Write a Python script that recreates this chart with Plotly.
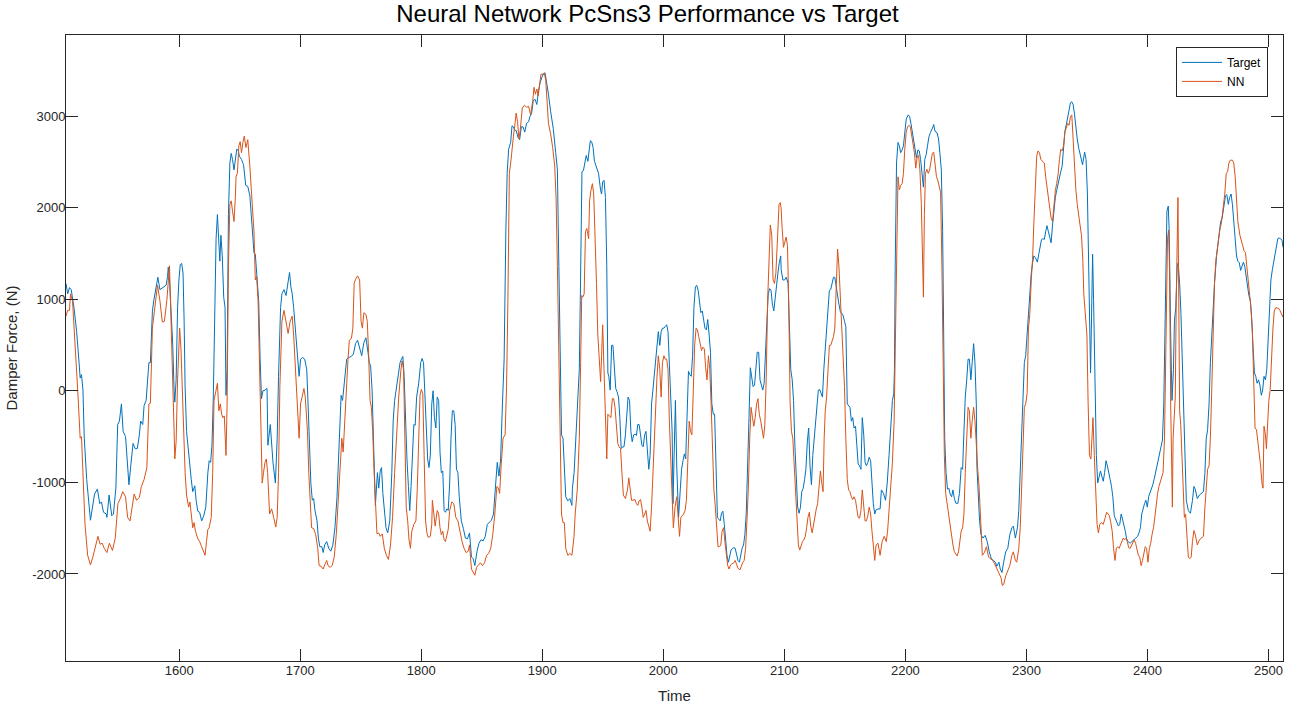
import plotly.graph_objects as go

# ===== DATA =====
# (time, damper force [N]) samples of the target signal
target_pts = [
    (1506.5, 1172), (1507.9, 1059), (1509.4, 1127), (1510.8, 1105), (1513.1, 909), (1515.3, 646),
    (1517.3, 308), (1518.2, 139), (1519.3, 177), (1520.5, 8), (1521.6, -518), (1523.6, -969),
    (1526.7, -1413), (1528.7, -1232), (1530.1, -1127), (1532.4, -1074), (1534.4, -1232), (1535.8, -1213),
    (1537.5, -1326), (1539.8, -1345), (1540.3, -1382), (1542.1, -1138), (1544.3, -1364), (1545.7, -1345),
    (1547.7, -1063), (1549.2, -368), (1550.6, -331), (1552.3, -143), (1553.7, -443), (1555.7, -500),
    (1557.1, -819), (1558.5, -1026), (1560.0, -819), (1561.9, -575), (1563.6, -631), (1565.4, -631),
    (1567.1, -481), (1568.2, -331), (1569.9, -368), (1571.0, -162), (1572.7, -105), (1575.0, 308),
    (1576.2, 308), (1577.9, 872), (1579.0, 984), (1580.7, 1135), (1582.4, 1240), (1584.1, 1105),
    (1586.9, 1135), (1589.2, 1153), (1590.4, 1247), (1591.0, 1350), (1592.0, 1220), (1593.6, 834),
    (1594.7, 496), (1595.8, 8), (1596.4, -124), (1597.5, 120), (1598.7, 909), (1599.8, 1210),
    (1600.9, 1379), (1602.1, 1390), (1603.2, 1285), (1604.1, 759), (1604.9, 45), (1606.1, -443),
    (1607.8, -706), (1608.9, -800), (1610.0, -969), (1611.2, -1101), (1612.9, -1037), (1614.0, -1195),
    (1615.4, -1315), (1616.9, -1326), (1618.6, -1420), (1620.3, -1364), (1622.0, -1270), (1623.7, -894),
    (1624.8, -763), (1626.0, -781), (1627.1, -594), (1628.2, -68), (1629.7, 984), (1630.5, 1661),
    (1631.6, 1924), (1632.8, 1661), (1633.6, 1416), (1634.5, 1698), (1635.6, 1473), (1636.8, 1022),
    (1637.9, 909), (1638.7, -49), (1639.6, 233), (1640.7, 1924), (1641.9, 2487), (1643.0, 2592),
    (1644.1, 2525), (1645.3, 2412), (1646.4, 2525), (1647.6, 2637), (1648.7, 2630), (1649.8, 2562),
    (1651.5, 2525), (1653.2, 2468), (1655.0, 2243), (1656.7, 2232), (1658.4, 2130), (1660.1, 1848),
    (1661.8, 1510), (1662.9, 1492), (1664.0, 1322), (1665.7, 984), (1666.9, 346), (1668.0, -86),
    (1669.2, 0), (1670.9, 8), (1672.6, 26), (1673.3, -594), (1675.3, -368), (1677.5, -781),
    (1679.5, -1007), (1681.0, -518), (1682.1, 158), (1683.8, 909), (1684.9, 1059), (1686.6, 1105),
    (1688.3, 1041), (1690.0, 1210), (1691.2, 1292), (1692.3, 1135), (1693.4, 1059), (1694.6, 909),
    (1696.0, 646), (1697.4, 421), (1699.1, 158), (1700.3, 346), (1701.9, 364), (1703.7, 346),
    (1705.4, 233), (1706.5, -143), (1707.7, -706), (1708.8, -1007), (1710.0, -1195), (1711.1, -1176),
    (1712.2, -1307), (1713.9, -1420), (1715.0, -1608), (1716.2, -1702), (1717.9, -1702), (1719.0, -1766),
    (1720.2, -1683), (1721.9, -1646), (1723.6, -1720), (1725.3, -1751), (1727.0, -1683), (1728.7, -1495),
    (1730.4, -1157), (1731.5, -819), (1732.7, -443), (1733.8, -49), (1735.0, -105), (1736.1, 45),
    (1737.2, 233), (1738.4, 346), (1740.0, 364), (1742.3, 376), (1744.0, 402), (1745.7, 515),
    (1747.4, 552), (1749.1, 458), (1750.8, 383), (1752.6, 526), (1754.3, 579), (1756.0, 421),
    (1757.1, 308), (1758.2, 270), (1759.4, 8), (1760.5, -518), (1761.6, -1007), (1762.1, -1251),
    (1763.8, -894), (1764.9, -1063), (1766.1, -875), (1767.2, -838), (1768.3, -1120), (1769.5, -1345),
    (1770.9, -1495), (1772.3, -1552), (1774.0, -1420), (1775.7, -894), (1776.8, -331), (1778.0, -105),
    (1779.1, 8), (1780.3, 83), (1781.4, 195), (1782.5, 308), (1783.7, 346), (1784.8, 376),
    (1785.9, 158), (1787.1, -443), (1788.2, -744), (1789.4, -1044), (1790.5, -1307), (1791.6, -1044),
    (1792.8, -594), (1793.9, -368), (1795.0, -376), (1796.2, -68), (1797.9, 83), (1799.6, 308),
    (1800.7, 353), (1801.9, 308), (1803.0, -30), (1804.1, -443), (1805.3, -744), (1806.4, -838),
    (1807.5, -706), (1808.7, -143), (1809.8, 0), (1810.9, -293), (1812.1, -406), (1813.2, -68),
    (1814.4, -105), (1815.5, -669), (1816.6, -894), (1817.8, -875), (1818.9, -1307), (1820.0, -1326),
    (1821.2, -1289), (1822.3, -1307), (1823.5, -1007), (1824.6, -518), (1825.7, -218), (1826.9, -218),
    (1828.0, -368), (1829.1, -857), (1830.3, -894), (1831.4, -1157), (1833.1, -1420), (1834.8, -1503),
    (1836.5, -1608), (1838.2, -1615), (1839.9, -1552), (1841.5, -1815), (1842.9, -1833), (1844.3, -1908),
    (1846.0, -1758), (1847.7, -1664), (1849.4, -1627), (1851.2, -1638), (1852.9, -1589), (1854.6, -1458),
    (1856.3, -1439), (1858.0, -1413), (1859.7, -1345), (1861.4, -1026), (1862.8, -781), (1864.2, -932),
    (1865.6, -744), (1867.1, -143), (1868.5, 346), (1869.9, 1736), (1871.0, 2374), (1872.2, 2637),
    (1873.9, 2712), (1875.0, 2893), (1876.2, 2882), (1877.3, 2844), (1878.4, 2844), (1879.9, 2769),
    (1881.3, 2742), (1882.7, 2882), (1884.1, 2882), (1885.5, 2825), (1887.0, 2919), (1888.7, 2938),
    (1889.8, 2994), (1891.2, 3032), (1892.6, 3171), (1894.1, 3182), (1895.5, 3126), (1896.9, 3276),
    (1898.3, 3370), (1899.8, 3426), (1901.2, 3464), (1902.3, 3471), (1903.4, 3389), (1905.1, 3239),
    (1906.9, 3051), (1909.1, 2863), (1911.1, 2600), (1912.5, 2412), (1913.7, 1360), (1914.8, 233),
    (1915.9, -481), (1917.1, -518), (1918.2, -894), (1919.4, -1157), (1921.1, -1202), (1922.8, -1176),
    (1924.5, -1251), (1924.9, -1063), (1926.3, -894), (1927.7, -518), (1929.2, -143), (1930.6, 233),
    (1931.4, 984), (1932.3, 1924), (1932.8, 2393), (1934.0, 2404), (1935.1, 2487), (1936.3, 2570),
    (1937.7, 2506), (1938.5, 2600), (1939.7, 2731), (1940.8, 2720), (1942.0, 2656), (1943.1, 2506),
    (1944.8, 2450), (1946.5, 2374), (1948.2, 2187), (1949.0, 2149), (1949.9, 2281), (1951.0, 2299),
    (1952.2, 2111), (1953.3, 1360), (1954.2, 195), (1955.0, 158), (1956.1, 8), (1957.3, 496),
    (1958.4, 496), (1959.6, 233), (1960.7, 26), (1961.8, -11), (1963.0, -68), (1964.1, -293),
    (1965.2, -631), (1966.4, -612), (1967.5, -612), (1968.7, -481), (1969.8, -218), (1970.9, -68),
    (1972.1, -105), (1973.2, -443), (1974.3, -556), (1975.5, -481), (1976.6, -473), (1977.8, -488),
    (1978.9, -368), (1980.0, -368), (1981.2, -481), (1982.3, -594), (1983.4, -612), (1984.6, -481),
    (1985.7, -443), (1986.8, -631), (1988.0, -857), (1989.1, -706), (1990.3, -143), (1991.4, 8),
    (1992.5, 158), (1993.7, 308), (1994.8, 458), (1995.9, 646), (1997.1, 496), (1998.2, 646),
    (1999.3, 684), (2000.5, 684), (2001.6, 703), (2002.8, 721), (2003.9, 646), (2005.0, 308),
    (2006.2, -68), (2007.3, -443), (2008.0, -1232), (2009.0, -706), (2010.0, -105), (2011.1, -819),
    (2012.6, -1382), (2014.0, -1082), (2015.1, -857), (2016.3, -763), (2017.4, -688), (2018.5, -744),
    (2019.7, -255), (2020.8, 214), (2021.9, 177), (2023.1, 158), (2024.2, 383), (2025.3, 909),
    (2026.5, 1135), (2027.6, 1153), (2028.8, 1097), (2029.9, 984), (2031.0, 853), (2032.2, 872),
    (2033.3, 797), (2034.4, 684), (2035.6, 665), (2036.7, 778), (2037.9, 609), (2039.0, 421),
    (2040.1, -143), (2041.3, -255), (2042.4, -255), (2043.5, -894), (2044.7, -1382), (2045.8, -1401),
    (2047.0, -1420), (2048.1, -1337), (2049.2, -1315), (2050.4, -1458), (2051.5, -1646), (2052.6, -1796),
    (2053.8, -1871), (2054.9, -1796), (2056.0, -1739), (2057.2, -1720), (2058.3, -1713), (2059.4, -1720),
    (2060.6, -1796), (2061.7, -1852), (2062.9, -1871), (2064.0, -1796), (2065.1, -1720), (2066.3, -1683),
    (2067.4, -1570), (2068.5, -1345), (2069.7, -894), (2070.8, -293), (2071.9, 252), (2073.1, 120),
    (2074.2, 45), (2075.4, 64), (2076.5, 214), (2077.6, 421), (2078.8, 421), (2079.9, 120),
    (2081.0, 64), (2082.2, 8), (2083.3, 83), (2084.4, 346), (2085.6, 759), (2086.7, 1059),
    (2087.9, 1116), (2089.0, 1097), (2090.1, 947), (2091.3, 872), (2092.4, 1022), (2093.5, 1172),
    (2094.7, 1285), (2095.8, 1398), (2097.0, 1473), (2097.4, 1322), (2098.8, 1210), (2100.2, 1210),
    (2101.6, 1240), (2103.1, 1172), (2104.2, 609), (2105.3, 233), (2106.5, 120), (2107.6, -105),
    (2108.7, -594), (2109.9, -1044), (2111.0, -1270), (2112.2, -1337), (2113.3, -1270), (2114.4, -1101),
    (2115.6, -1063), (2116.7, -969), (2117.8, -857), (2119.0, -556), (2120.1, -406), (2121.2, -819),
    (2122.4, -1026), (2123.5, -706), (2124.7, -518), (2125.8, -331), (2126.9, -143), (2128.1, 8),
    (2129.2, 15), (2130.3, -30), (2131.5, -68), (2132.6, 233), (2133.8, 458), (2134.9, 684),
    (2136.0, 984), (2137.2, 1097), (2138.3, 1105), (2139.4, 1172), (2140.6, 1240), (2141.7, 1240),
    (2142.8, 1135), (2144.0, 1022), (2145.1, 947), (2146.3, 864), (2147.4, 842), (2148.5, 827),
    (2149.7, 759), (2150.8, 703), (2152.0, -143), (2153.1, -162), (2154.2, -180), (2155.4, -331),
    (2156.5, -293), (2157.6, -406), (2158.8, -387), (2159.9, -594), (2161.0, -800), (2162.2, -819),
    (2163.3, -857), (2164.4, -293), (2165.6, -481), (2166.7, -781), (2167.8, -819), (2169.0, -781),
    (2170.1, -725), (2171.3, -763), (2172.4, -1007), (2173.5, -1232), (2174.7, -1345), (2175.7, -1300),
    (2177.4, -1290), (2179.1, -1290), (2180.2, -1082), (2181.9, -1120), (2183.6, -1195), (2185.0, -1007),
    (2186.5, -706), (2187.9, -443), (2189.3, -105), (2190.4, -30), (2191.0, 233), (2191.6, 1360),
    (2192.7, 2487), (2193.9, 2712), (2195.0, 2675), (2196.1, 2600), (2197.3, 2630), (2198.4, 2675),
    (2199.5, 2863), (2200.7, 2968), (2202.4, 3013), (2203.5, 2994), (2204.6, 2919), (2205.8, 2825),
    (2206.9, 2712), (2208.1, 2619), (2209.2, 2543), (2210.3, 2630), (2211.5, 2619), (2212.6, 2525),
    (2213.7, 2374), (2214.9, 2224), (2216.0, 2525), (2217.2, 2581), (2218.3, 2675), (2219.4, 2769),
    (2220.6, 2818), (2221.7, 2844), (2222.8, 2882), (2223.4, 2908), (2224.5, 2833), (2226.2, 2818),
    (2227.4, 2750), (2228.5, 2600), (2229.7, 2412), (2230.8, 1736), (2231.4, 609), (2232.5, -518),
    (2233.6, -894), (2234.8, -1074), (2235.9, -1063), (2237.0, -1127), (2238.2, -1157), (2239.3, -1082),
    (2240.5, -1176), (2241.6, -1225), (2243.3, -1232), (2244.7, -1120), (2246.1, -838), (2247.3, -857),
    (2248.4, -443), (2249.5, -68), (2250.7, 120), (2251.8, 346), (2252.9, 346), (2254.1, 120),
    (2255.2, 308), (2256.4, 515), (2257.5, 308), (2258.6, -143), (2259.1, -819), (2260.2, -1157),
    (2261.3, -1420), (2262.5, -1570), (2264.2, -1608), (2265.9, -1578), (2267.6, -1646), (2269.3, -1758),
    (2271.0, -1833), (2272.7, -1852), (2274.4, -1871), (2275.5, -1916), (2277.3, -1871), (2278.4, -1946),
    (2279.8, -1984), (2281.2, -1871), (2282.9, -1758), (2284.6, -1720), (2286.3, -1570), (2288.0, -1495),
    (2289.2, -1477), (2290.9, -1608), (2292.6, -1495), (2293.7, -1307), (2294.9, -894), (2296.0, -331),
    (2297.1, 45), (2298.3, 308), (2299.4, 383), (2300.6, 646), (2301.7, 909), (2302.8, 1135),
    (2304.0, 1285), (2305.1, 1398), (2306.2, 1473), (2307.4, 1454), (2309.1, 1405), (2310.2, 1492),
    (2311.3, 1585), (2312.5, 1653), (2313.6, 1661), (2314.8, 1653), (2315.9, 1736), (2317.0, 1803),
    (2318.2, 1736), (2319.3, 1661), (2320.4, 1616), (2321.6, 1811), (2322.7, 1999), (2323.9, 2111),
    (2325.0, 2187), (2326.1, 2262), (2327.3, 2356), (2328.4, 2393), (2329.5, 2450), (2330.7, 2637),
    (2331.8, 2833), (2333.0, 2908), (2334.1, 2975), (2335.2, 3051), (2336.4, 3145), (2337.5, 3156),
    (2338.6, 3126), (2339.8, 3013), (2340.9, 2863), (2342.0, 2750), (2343.3, 2645), (2344.7, 2562),
    (2346.4, 2468), (2348.1, 2607), (2349.3, 2525), (2350.4, 2149), (2351.6, 1360), (2352.4, 609),
    (2353.0, 195), (2353.8, 797), (2354.7, 1492), (2355.5, 984), (2356.7, -143), (2357.8, -706),
    (2358.9, -1007), (2360.1, -932), (2361.2, -875), (2362.3, -932), (2363.5, -988), (2364.6, -894),
    (2365.8, -763), (2366.9, -819), (2368.0, -913), (2369.2, -969), (2370.3, -1044), (2371.4, -1157),
    (2372.6, -1364), (2373.7, -1401), (2374.9, -1420), (2376.0, -1477), (2377.1, -1458), (2378.3, -1345),
    (2379.4, -1401), (2380.5, -1458), (2381.7, -1533), (2382.8, -1615), (2384.0, -1646), (2385.7, -1664),
    (2387.4, -1646), (2389.1, -1627), (2390.2, -1608), (2391.9, -1589), (2393.0, -1552), (2394.2, -1495),
    (2395.3, -1345), (2396.5, -1270), (2397.6, -1232), (2398.7, -1195), (2399.9, -1270), (2401.0, -1157),
    (2402.1, -1120), (2403.3, -1063), (2404.4, -1026), (2405.5, -969), (2406.7, -894), (2407.8, -819),
    (2409.0, -744), (2410.1, -688), (2411.2, -594), (2412.4, -537), (2413.5, -143), (2414.4, 609),
    (2415.2, 1548), (2416.1, 1961), (2417.2, 2017), (2418.0, 1736), (2419.2, 609), (2420.3, -105),
    (2421.5, 233), (2422.3, 759), (2423.4, 909), (2424.6, 1360), (2425.4, 1398), (2426.6, 1172),
    (2427.7, 834), (2428.6, 400), (2429.5, -100), (2430.4, -600), (2431.3, -969), (2432.1, -1195),
    (2433.8, -1307), (2435.5, -1337), (2437.2, -1195), (2438.4, -1044), (2439.5, -1074), (2441.2, -1176),
    (2442.9, -1138), (2444.6, -1120), (2446.3, -1101), (2447.5, -894), (2448.6, -518), (2449.7, -425),
    (2450.9, -143), (2452.0, 308), (2453.7, 759), (2455.4, 1172), (2457.1, 1473), (2458.8, 1698),
    (2460.5, 1848), (2461.7, 1886), (2463.4, 2036), (2464.5, 2130), (2465.6, 2141), (2466.8, 2036),
    (2467.9, 2111), (2469.1, 2149), (2470.2, 2036), (2471.3, 1848), (2472.5, 1661), (2473.6, 1473),
    (2474.7, 1416), (2475.9, 1398), (2477.0, 1315), (2478.1, 1360), (2479.3, 1405), (2480.4, 1360),
    (2481.6, 1247), (2482.7, 1097), (2483.8, 1041), (2485.0, 984), (2486.1, 797), (2487.2, 496),
    (2488.4, 195), (2489.5, 158), (2490.6, 83), (2491.8, 120), (2492.9, 64), (2494.1, -49),
    (2495.2, 8), (2496.3, 158), (2497.5, 120), (2498.6, 233), (2499.7, 609), (2500.9, 984),
    (2502.0, 1210), (2503.2, 1322), (2504.3, 1398), (2505.4, 1473), (2506.6, 1585), (2507.7, 1661),
    (2508.9, 1668), (2510.0, 1661), (2511.2, 1642), (2512.0, 1567),
]

# (time, damper force [N]) samples of the network output
nn_pts = [
    (1506.5, 815), (1507.9, 879), (1509.4, 879), (1510.2, 1059), (1511.9, 984), (1514.5, 421),
    (1516.5, -68), (1518.2, -518), (1519.3, -500), (1520.5, -894), (1522.2, -1458), (1524.4, -1796),
    (1526.7, -1901), (1528.7, -1815), (1531.0, -1683), (1532.9, -1589), (1534.7, -1675), (1536.4, -1664),
    (1538.1, -1720), (1540.3, -1766), (1542.3, -1664), (1544.9, -1743), (1547.2, -1608), (1549.4, -1232),
    (1551.4, -1176), (1553.4, -1101), (1555.7, -1157), (1557.4, -1382), (1559.4, -1420), (1560.8, -1307),
    (1562.8, -1127), (1564.8, -1195), (1567.1, -1165), (1568.8, -1044), (1571.0, -969), (1573.3, -838),
    (1575.0, -143), (1576.2, -135), (1577.9, 684), (1579.9, 909), (1582.1, 1153), (1584.1, 984),
    (1586.1, 751), (1587.8, 759), (1589.8, 984), (1592.0, 1365), (1593.6, 721), (1594.7, 233),
    (1595.6, -331), (1596.4, -744), (1597.5, -556), (1598.7, 120), (1600.4, 684), (1601.5, 458),
    (1602.7, 8), (1603.8, -518), (1604.9, -894), (1606.1, -1138), (1607.8, -1270), (1608.9, -1213),
    (1610.0, -1382), (1611.2, -1495), (1612.3, -1439), (1613.5, -1533), (1615.2, -1608), (1616.9, -1646),
    (1618.6, -1702), (1620.3, -1758), (1621.4, -1796), (1622.6, -1646), (1623.7, -1514), (1624.8, -1495),
    (1626.5, -1382), (1627.7, -894), (1628.8, -105), (1630.5, 8), (1631.6, 83), (1632.8, -218),
    (1634.0, -143), (1635.1, -255), (1636.2, -293), (1637.3, -274), (1638.7, -706), (1639.6, -143),
    (1640.7, 1360), (1641.9, 2036), (1643.0, 2074), (1644.1, 1961), (1645.3, 1848), (1646.4, 2111),
    (1647.0, 2337), (1648.1, 2374), (1649.3, 2675), (1650.4, 2720), (1651.5, 2600), (1652.7, 2712),
    (1653.8, 2780), (1655.2, 2656), (1656.7, 2742), (1658.4, 2450), (1660.1, 2111), (1661.8, 1736),
    (1662.9, 1210), (1664.0, 1247), (1665.2, 984), (1666.3, 346), (1667.5, -443), (1668.6, -1007),
    (1669.7, -894), (1670.9, -781), (1672.0, -744), (1673.1, -894), (1674.7, -1345), (1676.4, -1289),
    (1678.1, -1382), (1679.8, -1488), (1681.0, -1382), (1682.1, -894), (1683.2, 45), (1684.9, 759),
    (1686.6, 879), (1688.3, 740), (1690.0, 627), (1691.7, 759), (1693.4, 815), (1694.6, 609),
    (1695.7, 346), (1696.9, 45), (1698.0, -331), (1699.1, -518), (1700.3, -143), (1701.4, -86),
    (1703.1, 26), (1704.2, -68), (1706.0, -443), (1707.1, -894), (1708.2, -1270), (1709.4, -1495),
    (1711.1, -1503), (1712.8, -1570), (1714.5, -1720), (1715.6, -1908), (1717.3, -1916), (1719.0, -1946),
    (1720.2, -1901), (1721.9, -1852), (1723.0, -1908), (1724.7, -1927), (1726.4, -1908), (1728.1, -1815),
    (1729.8, -1570), (1731.5, -1195), (1733.2, -819), (1734.4, -518), (1735.5, -669), (1736.6, -368),
    (1737.8, 8), (1739.5, 346), (1740.6, 552), (1742.3, 571), (1743.5, 684), (1744.6, 1172),
    (1745.7, 1217), (1747.4, 1255), (1749.1, 1210), (1750.3, 759), (1751.4, 684), (1752.6, 853),
    (1754.3, 834), (1755.4, 759), (1756.5, 421), (1757.7, -105), (1758.8, -180), (1759.9, -443),
    (1761.1, -894), (1762.2, -1270), (1763.4, -1560), (1764.9, -1552), (1766.1, -1589), (1767.8, -1563),
    (1769.5, -1720), (1771.2, -1796), (1772.9, -1841), (1774.6, -1683), (1776.3, -1382), (1778.0, -894),
    (1779.7, -443), (1781.4, -68), (1783.1, 214), (1784.2, 327), (1785.4, 233), (1786.5, -706),
    (1787.6, -1270), (1788.8, -1420), (1789.9, -1627), (1791.1, -1720), (1792.2, -1533), (1793.9, -1458),
    (1795.6, -1420), (1796.7, -1082), (1797.9, -518), (1799.0, -49), (1800.1, 15), (1801.3, -30),
    (1802.4, -706), (1803.6, -1420), (1804.7, -1552), (1805.8, -1600), (1807.5, -1589), (1808.7, -1458),
    (1809.2, -1195), (1810.4, -1382), (1811.5, -1477), (1813.2, -1307), (1814.4, -1345), (1815.5, -1495),
    (1816.6, -1570), (1817.8, -1533), (1818.9, -1627), (1820.0, -1646), (1821.2, -1589), (1822.3, -1514),
    (1823.5, -1307), (1825.2, -1213), (1826.9, -1232), (1828.6, -1382), (1830.3, -1420), (1832.0, -1552),
    (1833.7, -1646), (1835.4, -1720), (1837.1, -1766), (1838.8, -1751), (1839.9, -1683), (1841.5, -1946),
    (1842.9, -1976), (1844.3, -2014), (1845.7, -1927), (1847.2, -1908), (1848.9, -1878), (1850.6, -1908),
    (1852.3, -1878), (1854.0, -1796), (1855.7, -1777), (1857.4, -1720), (1859.1, -1570), (1860.8, -1345),
    (1862.5, -1044), (1863.7, -1063), (1864.8, -1120), (1866.0, -819), (1867.6, -518), (1869.3, -481),
    (1870.5, 45), (1871.6, 984), (1872.8, 2374), (1873.9, 2487), (1875.0, 2675), (1876.2, 2780),
    (1877.3, 2900), (1878.4, 3032), (1879.6, 2938), (1880.7, 2750), (1881.8, 2844), (1883.5, 3088),
    (1885.3, 3118), (1887.0, 3096), (1888.7, 3107), (1890.4, 3013), (1892.1, 3163), (1893.2, 3314),
    (1894.3, 3239), (1895.5, 3295), (1896.6, 3220), (1897.8, 3389), (1898.9, 3456), (1900.6, 3456),
    (1901.7, 3471), (1902.9, 3389), (1904.0, 3163), (1905.1, 2919), (1906.9, 2806), (1908.6, 2656),
    (1910.3, 2450), (1911.4, 2111), (1912.5, 1360), (1913.7, 233), (1914.8, -518), (1915.9, -1345),
    (1917.1, -1439), (1918.2, -1439), (1919.4, -1720), (1921.1, -1796), (1922.8, -1777), (1924.5, -1796),
    (1926.2, -1600), (1927.2, -1345), (1928.9, -1082), (1930.6, -518), (1931.7, 308), (1932.6, 1041),
    (1933.4, 1022), (1934.6, 1059), (1935.7, 1736), (1936.8, 1773), (1938.3, 1661), (1939.1, 2074),
    (1940.2, 2187), (1941.4, 2262), (1942.5, 2149), (1943.6, 1736), (1944.8, 1172), (1945.9, 609),
    (1947.1, 308), (1948.2, 101), (1949.0, 383), (1949.9, 721), (1951.0, 233), (1952.2, -331),
    (1953.3, -744), (1954.2, -255), (1955.6, -274), (1956.7, -293), (1957.9, -86), (1959.0, -86),
    (1960.1, -180), (1961.3, -368), (1962.4, -575), (1963.5, -612), (1964.7, -631), (1965.8, -894),
    (1967.0, -1138), (1968.7, -1176), (1970.4, -1082), (1971.5, -950), (1972.6, -1044), (1973.8, -1195),
    (1974.9, -1195), (1976.6, -1187), (1977.8, -1232), (1978.9, -1251), (1980.0, -1202), (1981.2, -1187),
    (1982.3, -1270), (1983.4, -1382), (1984.6, -1345), (1985.7, -1307), (1986.8, -1420), (1988.0, -1495),
    (1989.1, -1533), (1990.3, -1270), (1991.4, -894), (1992.5, -518), (1993.7, -180), (1994.8, 158),
    (1995.9, 383), (1997.1, 233), (1998.2, -68), (1999.3, 308), (2000.5, 383), (2001.6, 346),
    (2002.8, 346), (2003.9, 233), (2005.0, -331), (2006.2, -894), (2007.3, -1157), (2008.3, -1495),
    (2009.7, -1270), (2011.1, -1157), (2012.3, -1420), (2013.4, -1589), (2014.5, -1382), (2015.7, -1364),
    (2016.8, -1345), (2018.0, -1307), (2019.1, -1195), (2020.2, -781), (2021.4, -331), (2022.5, -443),
    (2023.6, -481), (2024.8, 8), (2025.9, 496), (2027.1, 684), (2028.2, 665), (2029.3, 590),
    (2030.5, 496), (2031.6, 440), (2032.7, 477), (2033.9, 458), (2035.0, 252), (2036.1, 120),
    (2037.3, 383), (2038.4, 233), (2039.5, -143), (2040.7, -706), (2041.8, -1082), (2043.0, -1270),
    (2044.1, -1570), (2045.2, -1702), (2046.4, -1702), (2047.5, -1683), (2048.6, -1533), (2049.8, -1495),
    (2050.9, -1646), (2052.1, -1833), (2053.2, -1908), (2054.3, -1946), (2055.5, -1901), (2056.6, -1890),
    (2058.3, -1878), (2059.4, -1852), (2060.6, -1890), (2061.7, -1938), (2063.4, -1954), (2064.6, -1908),
    (2065.7, -1871), (2066.8, -1852), (2068.0, -1720), (2069.1, -1420), (2070.2, -1082), (2071.4, -518),
    (2072.5, -180), (2073.7, -293), (2074.8, -387), (2075.9, -293), (2077.1, -143), (2078.2, -86),
    (2079.3, -255), (2080.5, -331), (2081.6, -443), (2082.8, -518), (2083.9, -368), (2085.0, 120),
    (2086.2, 984), (2087.3, 1510), (2088.4, 1811), (2089.6, 1698), (2090.7, 1210), (2091.9, 1172),
    (2093.0, 1285), (2094.5, 1700), (2095.6, 2036), (2096.6, 2055), (2097.3, 1999), (2098.2, 1773),
    (2099.3, 1567), (2100.4, 1623), (2101.5, 1679), (2102.6, 1585), (2103.6, 984), (2104.8, -143),
    (2105.9, -443), (2107.0, -518), (2108.2, -819), (2109.3, -1157), (2110.4, -1420), (2111.6, -1683),
    (2112.7, -1739), (2113.9, -1683), (2115.0, -1646), (2116.1, -1627), (2117.3, -1589), (2118.4, -1495),
    (2119.5, -1382), (2120.7, -1326), (2121.8, -1477), (2123.0, -1552), (2124.1, -1458), (2125.2, -1382),
    (2126.4, -1289), (2127.5, -1232), (2128.6, -1007), (2129.8, -875), (2130.9, -1007), (2132.0, -1101),
    (2132.9, -518), (2133.8, -218), (2134.9, -68), (2136.0, 233), (2137.2, 496), (2138.3, 496),
    (2139.4, 534), (2140.6, 590), (2141.7, 684), (2142.8, 1210), (2144.0, 1548), (2145.1, 1360),
    (2146.3, 1022), (2147.4, 797), (2148.5, 534), (2149.7, 45), (2150.8, -518), (2152.0, -969),
    (2153.1, -1082), (2154.2, -1101), (2155.4, -1157), (2156.5, -1187), (2157.6, -1157), (2158.8, -1195),
    (2159.9, -1289), (2161.0, -1382), (2162.2, -1390), (2163.3, -1307), (2164.4, -1082), (2165.6, -1232),
    (2166.7, -1420), (2167.8, -1420), (2169.0, -1364), (2170.1, -1270), (2171.3, -1345), (2172.4, -1533),
    (2173.5, -1720), (2174.7, -1852), (2175.8, -1683), (2177.4, -1664), (2179.1, -1796), (2180.8, -1646),
    (2182.5, -1589), (2184.2, -1646), (2185.3, -1533), (2186.5, -1270), (2187.9, -1082), (2189.3, -781),
    (2190.7, -331), (2192.1, 984), (2193.3, 2036), (2193.9, 2337), (2195.0, 2194), (2196.1, 2243),
    (2197.3, 2262), (2198.4, 2374), (2199.5, 2637), (2200.7, 2825), (2201.8, 2882), (2202.9, 2900),
    (2204.1, 2882), (2205.2, 2788), (2206.4, 2675), (2207.5, 2600), (2208.6, 2431), (2209.8, 2562),
    (2210.9, 2570), (2212.0, 2412), (2213.2, 2036), (2214.0, 1360), (2214.9, 1022), (2215.7, 1924),
    (2216.6, 2374), (2217.7, 2420), (2218.9, 2374), (2220.0, 2412), (2221.1, 2487), (2222.3, 2592),
    (2223.4, 2607), (2224.5, 2487), (2225.7, 2337), (2226.8, 2299), (2227.9, 2224), (2229.1, 2168),
    (2230.2, 1360), (2231.1, 233), (2232.2, -706), (2233.3, -1120), (2234.8, -1270), (2235.9, -1382),
    (2237.0, -1495), (2238.2, -1627), (2239.3, -1683), (2240.5, -1758), (2241.6, -1788), (2242.7, -1803),
    (2243.9, -1758), (2245.0, -1646), (2246.1, -1533), (2247.3, -1495), (2248.4, -1345), (2249.5, -894),
    (2250.7, -443), (2251.8, -180), (2252.9, -218), (2254.1, -518), (2255.2, -331), (2256.4, -180),
    (2257.5, -331), (2258.6, -631), (2259.8, -857), (2260.9, -1050), (2261.9, -1400), (2263.6, -1796),
    (2265.3, -1766), (2267.0, -1702), (2268.7, -1815), (2270.4, -1833), (2272.1, -1852), (2273.8, -1890),
    (2275.5, -1946), (2277.3, -1984), (2279.0, -2040), (2280.1, -2126), (2281.2, -2115), (2282.9, -2021),
    (2284.6, -1965), (2286.3, -1908), (2288.0, -1796), (2289.2, -1758), (2290.9, -1852), (2292.0, -1871),
    (2293.7, -1720), (2294.9, -1495), (2296.0, -1082), (2297.1, -518), (2298.3, -180), (2299.4, -143),
    (2300.6, -30), (2301.7, 684), (2302.8, 834), (2304.0, 1210), (2305.1, 1435), (2306.2, 1848),
    (2307.4, 2299), (2308.5, 2562), (2309.6, 2619), (2310.8, 2600), (2311.9, 2525), (2313.6, 2495),
    (2314.8, 2487), (2315.9, 2337), (2317.0, 2224), (2318.2, 2111), (2319.3, 1999), (2320.4, 1886),
    (2321.6, 1848), (2322.7, 2036), (2323.9, 2187), (2325.0, 2262), (2326.1, 2356), (2327.3, 2525),
    (2328.4, 2637), (2329.5, 2619), (2330.7, 2675), (2331.8, 2825), (2333.0, 2863), (2334.1, 2919),
    (2335.2, 2900), (2336.4, 2994), (2337.5, 3013), (2338.6, 2712), (2339.8, 2374), (2340.9, 2187),
    (2342.0, 2036), (2343.2, 1886), (2344.3, 1811), (2345.5, 1698), (2346.6, 1435), (2347.4, 1059),
    (2348.6, 834), (2350.0, 609), (2351.0, -143), (2352.1, -706), (2353.3, -744), (2354.4, -368),
    (2355.0, -293), (2356.1, -706), (2357.2, -1195), (2358.4, -1458), (2359.5, -1552), (2360.6, -1458),
    (2361.8, -1439), (2363.5, -1458), (2365.2, -1382), (2366.3, -1326), (2367.5, -1345), (2368.6, -1364),
    (2369.7, -1439), (2370.9, -1533), (2372.0, -1720), (2373.2, -1852), (2374.3, -1720), (2375.4, -1702),
    (2376.6, -1720), (2377.7, -1683), (2378.8, -1646), (2380.0, -1608), (2381.1, -1627), (2382.2, -1608),
    (2383.4, -1646), (2384.5, -1713), (2385.7, -1720), (2386.8, -1683), (2387.9, -1646), (2389.1, -1627),
    (2390.2, -1664), (2391.3, -1720), (2392.5, -1796), (2393.6, -1815), (2394.8, -1908), (2395.9, -1852),
    (2397.0, -1758), (2398.2, -1702), (2399.3, -1720), (2400.4, -1871), (2401.6, -1720), (2402.7, -1664),
    (2403.8, -1570), (2405.0, -1495), (2406.1, -1382), (2407.3, -1232), (2408.4, -1120), (2409.5, -1044),
    (2410.7, -988), (2411.8, -950), (2412.9, -894), (2414.1, -518), (2414.9, 233), (2415.8, 1172),
    (2416.6, 1661), (2417.5, 1755), (2418.3, 1285), (2419.2, -143), (2420.0, -894), (2420.6, -1270),
    (2421.2, -518), (2422.0, -218), (2423.0, -68), (2423.8, 1000), (2424.6, 2036), (2425.2, 2111),
    (2425.9, 984), (2426.6, -218), (2427.5, -368), (2428.3, -706), (2429.4, -1157), (2430.5, -1382),
    (2431.5, -1345), (2432.7, -1646), (2433.8, -1815), (2435.0, -1833), (2436.1, -1815), (2437.2, -1646),
    (2438.4, -1525), (2439.5, -1570), (2441.2, -1683), (2442.9, -1627), (2444.6, -1608), (2446.3, -1589),
    (2447.5, -1270), (2448.6, -1007), (2449.7, -857), (2450.9, -819), (2452.0, -518), (2453.2, 45),
    (2454.3, 609), (2455.4, 1172), (2456.6, 1435), (2458.3, 1623), (2460.0, 1773), (2461.1, 1830),
    (2462.2, 1961), (2463.9, 2149), (2465.1, 2374), (2466.2, 2393), (2467.3, 2487), (2468.5, 2518),
    (2470.2, 2518), (2471.3, 2487), (2472.5, 2337), (2473.6, 2111), (2474.7, 1848), (2476.4, 1698),
    (2477.6, 1623), (2478.7, 1585), (2479.8, 1529), (2481.0, 1510), (2482.1, 1360), (2483.3, 1210),
    (2484.4, 1059), (2485.5, 909), (2486.7, 646), (2487.8, 233), (2488.9, -406), (2490.1, -425),
    (2491.2, -556), (2492.4, -669), (2493.5, -819), (2494.6, -1007), (2495.5, -1063), (2496.3, -387),
    (2497.5, -481), (2498.3, -631), (2499.2, -368), (2500.3, -105), (2501.4, 8), (2502.6, 383),
    (2503.7, 684), (2504.8, 872), (2506.0, 909), (2507.1, 902), (2508.3, 902), (2509.4, 879),
    (2510.5, 853), (2511.2, 834), (2512.0, 804),
]

x_ticks = [1600, 1700, 1800, 1900, 2000, 2100, 2200, 2300, 2400, 2500]
y_ticks = [-2000, -1000, 0, 1000, 2000, 3000]
y_tick_text = ['-2000', '-1000', '0', '1000', '2000', '3000']

target_t = [p[0] for p in target_pts]
target_f = [p[1] for p in target_pts]
nn_t = [p[0] for p in nn_pts]
nn_f = [p[1] for p in nn_pts]

# ===== PLOT =====
font_fam = 'Liberation Sans, Arial, Helvetica, sans-serif'
axis_col = '#262626'

fig = go.Figure()
fig.add_trace(go.Scatter(x=target_t, y=target_f, mode='lines', name='Target',
                         line=dict(color='#0072BD', width=1)))
fig.add_trace(go.Scatter(x=nn_t, y=nn_f, mode='lines', name='NN',
                         line=dict(color='#D95319', width=1)))

axis_common = dict(showline=True, linecolor=axis_col, linewidth=1, mirror='allticks',
                   ticks='inside', ticklen=12, tickwidth=1, tickcolor=axis_col,
                   showgrid=False, zeroline=False, automargin=False,
                   ticklabelstandoff=-3,
                   tickfont=dict(family=font_fam, size=13, color=axis_col))

fig.update_layout(
    width=1289, height=706,
    margin=dict(l=66, r=6, t=35, b=45, autoexpand=False),
    paper_bgcolor='white', plot_bgcolor='white',
    font=dict(family=font_fam, color=axis_col),
    title=dict(text='Neural Network PcSns3 Performance vs Target', x=0.5023, xref='container',
               xanchor='center', y=0.981, yref='container', yanchor='middle',
               font=dict(family=font_fam, size=24, color='#000000')),
    xaxis=dict(range=[1506.5, 2512], tickvals=x_ticks,
               title=dict(text='Time', font=dict(family=font_fam, size=15, color=axis_col), standoff=13),
               **axis_common),
    yaxis=dict(range=[-2950, 3885], tickvals=y_ticks, ticktext=y_tick_text,
               title=dict(text='Damper Force, (N)', font=dict(family=font_fam, size=15, color=axis_col), standoff=10),
               **axis_common),
    legend=dict(x=0.9877, xanchor='right', y=0.981, yanchor='top',
                bgcolor='white', bordercolor=axis_col, borderwidth=1,
                font=dict(family=font_fam, size=12, color='#000000'),
                tracegroupgap=0, itemwidth=40),
    showlegend=True,
)

# the page body has a default 8px margin; drop it so the figure sits at the window origin
fig.write_html("out.html", config={'displayModeBar': False},
               post_script="document.body.style.margin='0';")
